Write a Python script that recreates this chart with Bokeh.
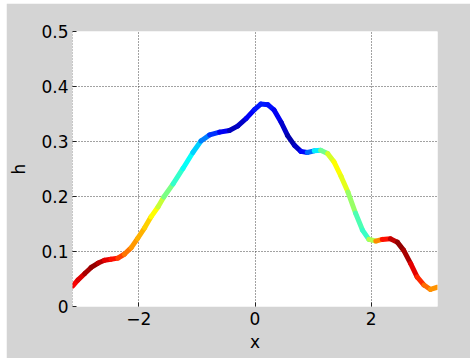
import numpy as np
from bokeh.plotting import figure
from bokeh.models import Span, FixedTicker, ColumnDataSource
from bokeh.embed import file_html
from bokeh.resources import INLINE

# Values
x_vals = [-3.14, -3.05, -2.93, -2.82, -2.70, -2.59, -2.48, -2.36, -2.25, -2.13, -2.02,
          -1.90, -1.79, -1.67, -1.57, -1.41, -1.24, -1.07, -0.93, -0.78, -0.61, -0.44,
          -0.30, -0.15, -0.01, 0.10, 0.22, 0.33, 0.45, 0.56, 0.68, 0.79, 0.90, 1.02,
          1.13, 1.25, 1.36, 1.48, 1.60, 1.73, 1.85, 1.96, 2.08, 2.19, 2.33, 2.45, 2.56,
          2.68, 2.79, 2.91, 3.02, 3.14]
h_vals = [0.037, 0.048, 0.060, 0.071, 0.079, 0.084, 0.086, 0.088, 0.095, 0.107, 0.124,
          0.143, 0.163, 0.181, 0.199, 0.223, 0.251, 0.280, 0.301, 0.312, 0.317, 0.320,
          0.328, 0.342, 0.358, 0.368, 0.367, 0.357, 0.335, 0.311, 0.293, 0.282, 0.280, 0.283,
          0.284, 0.278, 0.263, 0.237, 0.208, 0.170, 0.139, 0.122, 0.119, 0.122, 0.123, 0.117, 0.102,
          0.078, 0.054, 0.039, 0.031, 0.035]
# colour value along the curve (jet colormap, 0 = dark blue, 1 = dark red)
c_vals = [0.87, 0.89, 0.93, 0.99, 0.97, 0.92, 0.88, 0.84, 0.78, 0.74, 0.71,
          0.69, 0.65, 0.60, 0.54, 0.45, 0.40, 0.36, 0.30, 0.20, 0.15, 0.08,
          0.04, 0.10, 0.14, 0.15, 0.15, 0.13, 0.10, 0.05, 0.04, 0.10, 0.16, 0.30,
          0.42, 0.55, 0.62, 0.63, 0.57, 0.48, 0.42, 0.44, 0.66, 0.82, 0.90, 0.97, 0.99,
          0.93, 0.87, 0.80, 0.74, 0.72]
x_ticks = [-2, 0, 2]
y_ticks = [0, 0.1, 0.2, 0.3, 0.4, 0.5]


def jet(c):
    r = np.clip(1.5 - abs(4 * c - 3), 0, 1)
    g = np.clip(1.5 - abs(4 * c - 2), 0, 1)
    b = np.clip(1.5 - abs(4 * c - 1), 0, 1)
    return "#%02x%02x%02x" % (int(r * 255), int(g * 255), int(b * 255))


x0 = x_vals[:-1]
x1 = x_vals[1:]
y0 = h_vals[:-1]
y1 = h_vals[1:]
cols = [jet((c_vals[i] + c_vals[i + 1]) / 2) for i in range(len(c_vals) - 1)]
src = ColumnDataSource(dict(x0=x0, x1=x1, y0=y0, y1=y1, color=cols))

p = figure(width=464, height=355, x_range=(-np.pi, np.pi), y_range=(0, 0.5),
           output_backend="svg", toolbar_location=None,
           min_border_left=63, min_border_right=33, min_border_top=28, min_border_bottom=52,
           background_fill_color="white", border_fill_color="#d4d4d4")
p.margin = (3, 5, 0, 6)
p.outline_line_color = None

p.segment("x0", "y0", "x1", "y1", source=src, line_color="color", line_width=5,
          line_cap="round")

p.xaxis.ticker = FixedTicker(ticks=x_ticks)
p.yaxis.ticker = FixedTicker(ticks=y_ticks)
p.xaxis.axis_label = "x"
p.yaxis.axis_label = "h"
for ax in (p.xaxis, p.yaxis):
    ax.axis_line_color = None
    ax.major_tick_in = 4
    ax.major_tick_out = 0
    ax.major_tick_line_color = "#222222"
    ax.minor_tick_line_color = None
    ax.major_label_text_font = "DejaVu Sans"
    ax.major_label_text_font_size = "17px"
    ax.major_label_text_color = "black"
    ax.axis_label_text_font = "DejaVu Sans"
    ax.axis_label_text_font_size = "17px"
    ax.axis_label_text_font_style = "normal"
    ax.axis_label_text_color = "black"
p.yaxis.major_label_standoff = 4
p.xaxis.major_label_standoff = 5
p.yaxis.axis_label_standoff = 9
p.xaxis.axis_label_standoff = 4

for g in (p.xgrid, p.ygrid):
    g.grid_line_color = "#444444"
    g.grid_line_dash = "1 2"
    g.grid_line_width = 1
p.add_layout(Span(location=-np.pi, dimension="height", line_color="#444444",
                  line_dash="1 2", line_width=1))

open("out.html", "w").write(file_html(p, INLINE))
